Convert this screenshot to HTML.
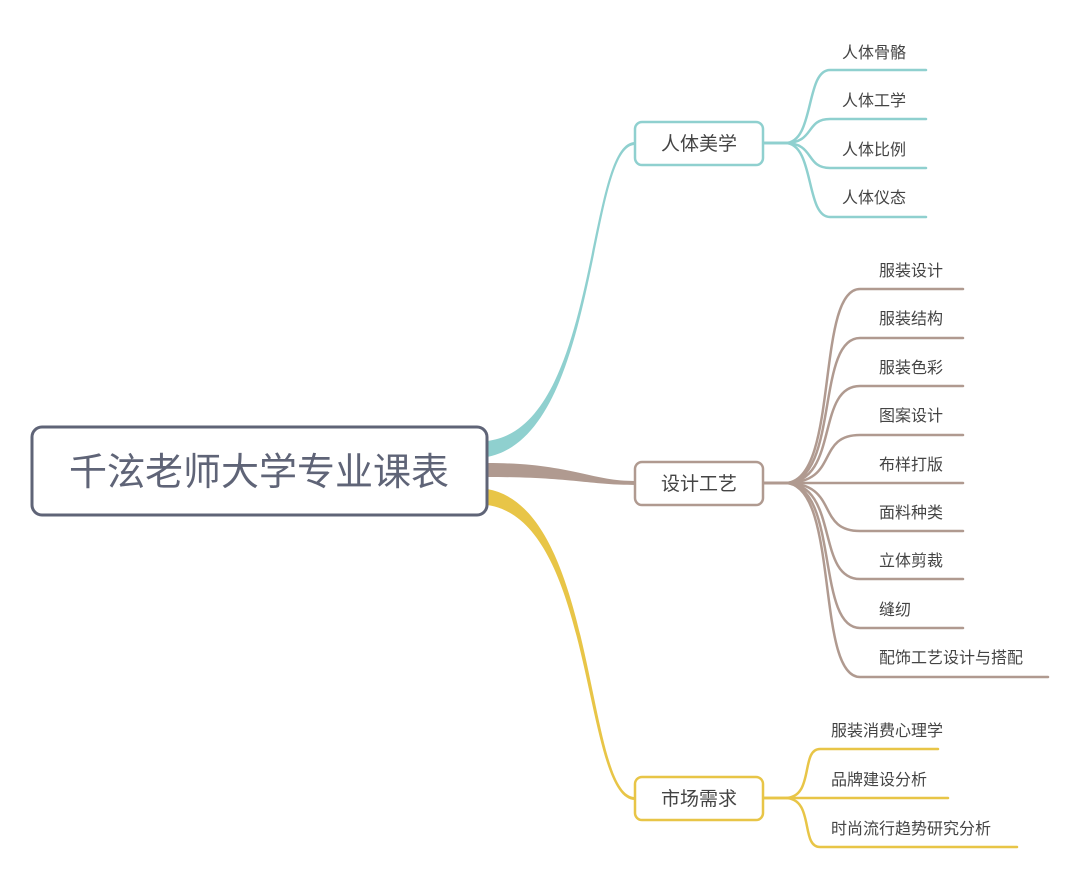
<!DOCTYPE html>
<html><head><meta charset="utf-8"><style>
html,body{margin:0;padding:0;background:#fff;}
svg{display:block}
text{font-family:"Liberation Sans","Noto Sans CJK SC",sans-serif;fill:#444;}
</style></head><body>
<svg width="1080" height="879" viewBox="0 0 1080 879" xmlns="http://www.w3.org/2000/svg">
<!-- main branches -->
<path d="M487,441 C600,428 585,142 635,142 L635,145 C588,145 600,436 487,457 Z" fill="#8fd0cf"/>
<path d="M487,463 C570,463 590,481 635,481 L635,485 C590,485 570,477 487,477 Z" fill="#b09a90"/>
<path d="M487,489 C598,508 585,797 635,797 L635,800 C582,800 596,520 487,505 Z" fill="#e8c547"/>
<g fill="none" stroke-width="2.5" stroke-linecap="round">
<g stroke="#8fd0cf">
<path d="M763,143 L785,143 C815,143 805,70 830,70 L926,70"/>
<path d="M763,143 L785,143 C815,143 805,119 830,119 L926,119"/>
<path d="M763,143 L785,143 C815,143 805,168 830,168 L926,168"/>
<path d="M763,143 L785,143 C815,143 805,217 830,217 L926,217"/>
</g>
<g stroke="#b09a90">
<path d="M763,483 L785,483 C840,483 815,289 860,289 L963,289"/>
<path d="M763,483 L785,483 C840,483 815,338 860,338 L963,338"/>
<path d="M763,483 L785,483 C840,483 815,386 860,386 L963,386"/>
<path d="M763,483 L785,483 C840,483 815,435 860,435 L963,435"/>
<path d="M763,483 L785,483 C840,483 815,483 860,483 L963,483"/>
<path d="M763,483 L785,483 C840,483 815,531 860,531 L963,531"/>
<path d="M763,483 L785,483 C840,483 815,579 860,579 L963,579"/>
<path d="M763,483 L785,483 C840,483 815,628 860,628 L963,628"/>
<path d="M763,483 L785,483 C840,483 815,677 860,677 L1048,677"/>
</g>
<g stroke="#e8c547">
<path d="M763,798 L785,798 C815,798 800,749 820,749 L938,749"/>
<path d="M763,798 L785,798 C815,798 800,798 820,798 L948,798"/>
<path d="M763,798 L785,798 C815,798 800,847 820,847 L1017,847"/>
</g>
</g>
<!-- nodes -->
<rect x="32" y="427" width="455" height="88" rx="10" fill="#fff" stroke="#5f6477" stroke-width="3"/>
<text x="259" y="485" font-size="38" text-anchor="middle" style="fill:#5f6477">千泫老师大学专业课表</text>
<rect x="635" y="122" width="128" height="43" rx="7" fill="#fff" stroke="#8fd0cf" stroke-width="2.5"/>
<text x="699" y="150" font-size="19" text-anchor="middle">人体美学</text>
<rect x="635" y="462" width="128" height="43" rx="7" fill="#fff" stroke="#b09a90" stroke-width="2.5"/>
<text x="699" y="490" font-size="19" text-anchor="middle">设计工艺</text>
<rect x="635" y="777" width="128" height="43" rx="7" fill="#fff" stroke="#e8c547" stroke-width="2.5"/>
<text x="699" y="805" font-size="19" text-anchor="middle">市场需求</text>
<g font-size="16">
<text x="842" y="58">人体骨骼</text>
<text x="842" y="106">人体工学</text>
<text x="842" y="155">人体比例</text>
<text x="842" y="203">人体仪态</text>
<text x="879" y="276">服装设计</text>
<text x="879" y="324">服装结构</text>
<text x="879" y="373">服装色彩</text>
<text x="879" y="421">图案设计</text>
<text x="879" y="470">布样打版</text>
<text x="879" y="518">面料种类</text>
<text x="879" y="566">立体剪裁</text>
<text x="879" y="615">缝纫</text>
<text x="879" y="663">配饰工艺设计与搭配</text>
<text x="831" y="736">服装消费心理学</text>
<text x="831" y="785">品牌建设分析</text>
<text x="831" y="834">时尚流行趋势研究分析</text>
</g>
</svg>
</body></html>
